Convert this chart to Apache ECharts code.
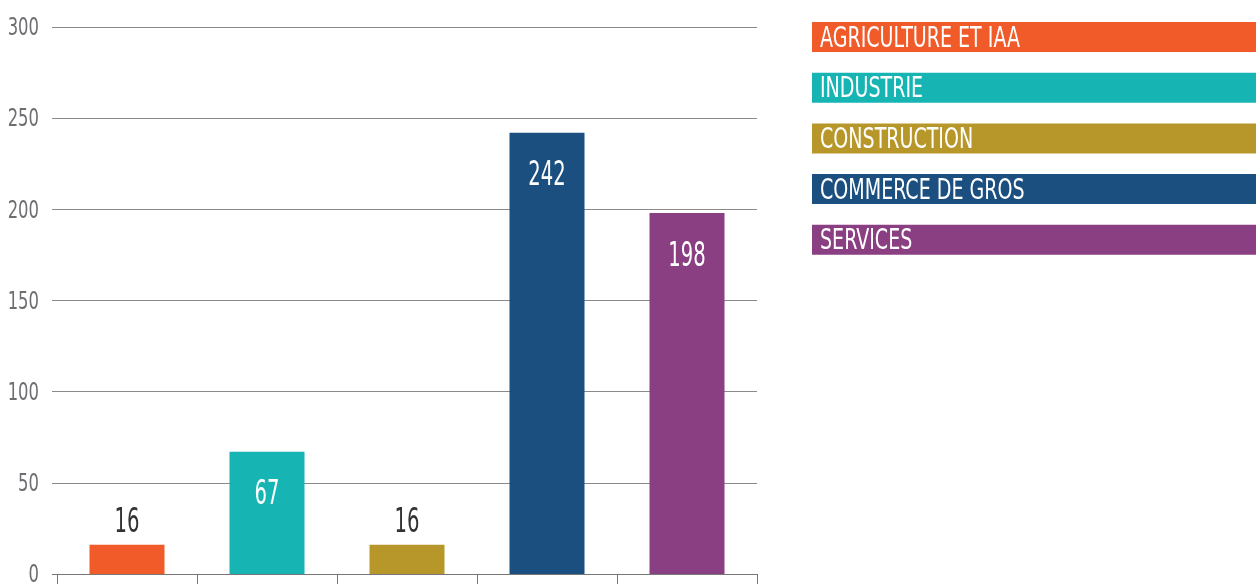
<!DOCTYPE html>
<html>
<head>
<meta charset="utf-8">
<script src="https://cdn.jsdelivr.net/npm/echarts@6/dist/echarts.min.js"></script>
<style>html,body{margin:0;padding:0;background:#fff}#c{width:1256px;height:584px}</style>
</head>
<body>
<div id="c"></div>
<script>
var categories = ['AGRICULTURE ET IAA', 'INDUSTRIE', 'CONSTRUCTION', 'COMMERCE DE GROS', 'SERVICES'];
var values = [16, 67, 16, 242, 198];
var colors = ['#F15A29', '#17B4B4', '#B8972A', '#1B4F80', '#8A3F82'];
var yTicks = [0, 50, 100, 150, 200, 250, 300];

var FONT = '"DejaVu Sans Condensed", "DejaVu Sans", sans-serif';

var chart = echarts.init(document.getElementById('c'));

function crisp(y) {
  var d = Math.round(y * 2);
  return (d + 1) % 2 === 0 ? d / 2 : (d + 1) / 2;
}

var graphics = [];
categories.forEach(function (name, i) {
  graphics.push({
    type: 'group',
    left: 812,
    top: 22 + i * 50.7,
    children: [
      { type: 'rect', shape: { x: 0, y: 0, width: 444, height: 30 }, style: { fill: colors[i] } },
      { type: 'text', x: 8, y: 17, scaleX: 0.73, style: { text: name, fill: '#fff', font: '29px ' + FONT, verticalAlign: 'middle' } }
    ]
  });
});

chart.setOption({
  animation: false,
  grid: { left: 57, right: 499, top: 27, bottom: 10, containLabel: false, outerBoundsMode: 'none' },
  xAxis: {
    type: 'category',
    data: categories,
    axisLine: { lineStyle: { color: '#777', width: 1 } },
    axisTick: { show: true, interval: 0, length: 12, lineStyle: { color: '#777' } },
    axisLabel: { show: false }
  },
  yAxis: {
    type: 'value',
    min: yTicks[0],
    max: yTicks[yTicks.length - 1],
    interval: 50,
    axisLine: { show: false },
    axisTick: { show: false },
    splitLine: { lineStyle: { color: '#8a8a8a', width: 1 } },
    axisLabel: { show: false }
  },
  series: [
    {
      type: 'bar',
      barWidth: 75,
      data: values.map(function (v, i) {
        return { value: v, itemStyle: { color: colors[i] } };
      })
    },
    {
      // value labels on bars
      type: 'custom',
      data: values.map(function (v, i) { return [i, v]; }),
      renderItem: function (params, api) {
        var v = api.value(1);
        var p = api.coord([api.value(0), v]);
        var small = v < 40;
        return {
          type: 'text',
          x: p[0],
          y: small ? p[1] - 21 : p[1] + 44,
          scaleX: 0.66,
          style: {
            text: String(v),
            fill: small ? '#333333' : '#ffffff',
            font: '33px ' + FONT,
            align: 'center',
            verticalAlign: 'middle'
          }
        };
      },
      z: 10
    },
    {
      // y-axis tick labels (condensed) and short grid extension to the left
      type: 'custom',
      data: yTicks.map(function (t) { return [0, t]; }),
      renderItem: function (params, api) {
        var v = api.value(1);
        var p = api.coord([0, v]);
        var x0 = params.coordSys.x;
        var yy = crisp(p[1]);
        return {
          type: 'group',
          children: [
            {
              type: 'line',
              shape: { x1: x0 - 5, y1: yy, x2: x0, y2: yy },
              style: { stroke: v === 0 ? '#777' : '#8a8a8a', lineWidth: 1 }
            },
            {
              type: 'text',
              x: x0 - 18,
              y: p[1] + 2,
              scaleX: 0.76,
              style: {
                text: String(v),
                fill: '#6d6e71',
                font: '24px ' + FONT,
                align: 'right',
                verticalAlign: 'middle'
              }
            }
          ]
        };
      },
      clip: false,
      silent: true
    }
  ],
  graphic: graphics
});
</script>
</body>
</html>
